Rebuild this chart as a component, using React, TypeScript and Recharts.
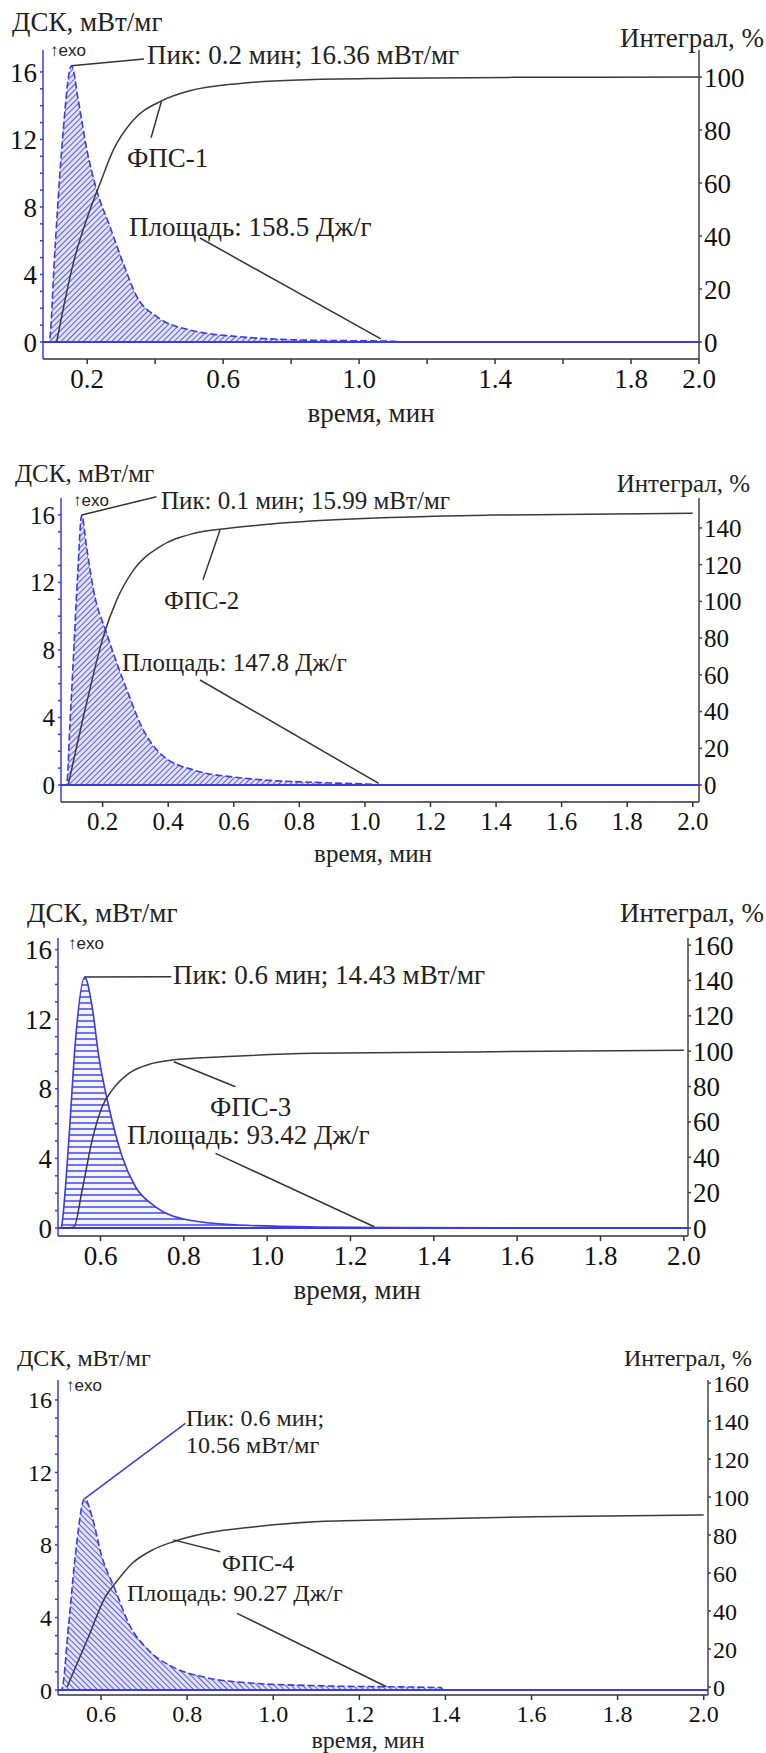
import React from "react";
import { ComposedChart, Area, Line, XAxis, YAxis, ReferenceLine } from "recharts";

// ФПС-1: ДСК-кривая (мВт/мг) и интеграл (%)
const dsc1X = [0.07, 0.088, 0.105, 0.125, 0.154, 0.174, 0.199, 0.228, 0.267, 0.306, 0.346, 0.405, 0.502, 0.65, 0.826, 1.1, 1.13, 2.0];
const dsc1Y = [0, 0, 5.45, 11.4, 16.36, 14.3, 11.4, 9.0, 6.83, 4.66, 2.69, 1.5, 0.71, 0.31, 0.12, 0.04, 0, 0];
const int1X = [0.11, 0.159, 0.208, 0.238, 0.277, 0.336, 0.419, 0.502, 0.65, 0.826, 1.1, 1.5, 2.0];
const int1Y = [0, 29.7, 49.8, 59.9, 72.5, 83.8, 91, 94.8, 97.6, 98.9, 99.5, 99.9, 100];

// ФПС-2
const dsc2X = [0.073, 0.09, 0.1, 0.111, 0.124, 0.136, 0.151, 0.172, 0.212, 0.274, 0.324, 0.375, 0.477, 0.629, 0.864, 1.02, 1.05, 2.0];
const dsc2Y = [0, 0, 3.5, 7.6, 12.5, 15.99, 14.1, 11.56, 9.0, 5.63, 3.26, 1.88, 0.89, 0.41, 0.14, 0.04, 0, 0];
const int2X = [0.095, 0.151, 0.202, 0.243, 0.294, 0.375, 0.477, 0.558, 0.68, 0.864, 1.38, 2.0];
const int2Y = [0, 44.5, 80.8, 100.8, 117, 129.8, 137, 139.3, 141.6, 144, 147, 148];

// ФПС-3
const dsc3X = [0.498, 0.506, 0.508, 0.524, 0.54, 0.562, 0.58, 0.596, 0.62, 0.652, 0.684, 0.732, 0.811, 0.931, 1.12, 1.3, 2.0];
const dsc3Y = [0, 0, 0.3, 5.06, 10.8, 14.43, 12.7, 9.85, 6.97, 4.1, 2.37, 1.22, 0.46, 0.17, 0.06, 0.03, 0];
const int3X = [0.508, 0.536, 0.556, 0.58, 0.604, 0.628, 0.668, 0.724, 0.772, 0.892, 1.115, 1.5, 2.0];
const int3Y = [0, 0.5, 21.5, 49.7, 68.6, 78, 87.4, 93.1, 95, 96.8, 98.8, 99.6, 100.5];

// ФПС-4
const dsc4X = [0.5, 0.508, 0.525, 0.54, 0.562, 0.579, 0.602, 0.633, 0.664, 0.71, 0.765, 0.842, 0.958, 1.097, 1.39, 1.395, 2.0];
const dsc4Y = [0, 0, 3.68, 7.35, 10.56, 9.56, 7.35, 5.52, 3.68, 2.2, 1.29, 0.7, 0.37, 0.24, 0.13, 0, 0];
const int4X = [0.521, 0.571, 0.61, 0.633, 0.672, 0.718, 0.768, 0.842, 0.958, 1.097, 1.27, 1.61, 2.0];
const int4Y = [0, 26.5, 47.5, 54.6, 65, 72, 76.5, 80.9, 84.4, 87, 88, 89.6, 90.5];

// tick values
const xTicksA = [0.2, 0.4, 0.6, 0.8, 1.0, 1.2, 1.4, 1.6, 1.8, 2.0];
const xLabels1 = [0.2, 0.6, 1.0, 1.4, 1.8, 2.0];
const xTicksB = [0.6, 0.8, 1.0, 1.2, 1.4, 1.6, 1.8, 2.0];
const leftTicks = [0, 1, 2, 3, 4, 5, 6, 7, 8, 9, 10, 11, 12, 13, 14, 15, 16];
const rightTicks1 = [0, 20, 40, 60, 80, 100];
const rightTicks2 = [0, 20, 40, 60, 80, 100, 120, 140];
const rightTicks3 = [0, 20, 40, 60, 80, 100, 120, 140, 160];

const FONT = '"Liberation Serif", Tinos, "Times New Roman", "DejaVu Serif", serif';
const BLUE = "#3a3ae6";
const INK = "#222";

type Seg = { a: [number, number]; b: [number, number]; color?: string };
type Txt = { x: number; y: number; text: string; anchor?: "start" | "middle" | "end"; sans?: boolean; size?: number };

const panels = [
	{
		id: "p1", top: 0, height: 440, plotTop: 50, plotBottom: 359, leftPx: 43, rightPx: 699,
		xDomain: [0.07, 2.0], leftDomain: [-1.007, 17.3], rightDomain: [-6.4, 110.2],
		xTicks: xTicksA, xLabels: xLabels1, rightTicks: rightTicks1,
		dscX: dsc1X, dscY: dsc1Y, intX: int1X, intY: int1Y, hatch: "diag", dashed: true, fs: 27,
		segs: [
			{ a: [0.154, 16.36], b: [0.367, 16.77] },
			{ a: [0.388, 12.1], b: [0.419, 14.3] },
			{ a: [0.532, 6.16], b: [1.064, 0.18] },
		] as Seg[],
		texts: [
			{ x: 12, y: 22, text: "ДСК, мВт/мг" },
			{ x: 764, y: 38, text: "Интеграл, %", anchor: "end" },
			{ x: 371, y: 413, text: "время, мин", anchor: "middle" },
			{ x: 50, y: 50, text: "↑exo", sans: true, size: 17 },
			{ x: 147, y: 55, text: "Пик: 0.2 мин; 16.36 мВт/мг" },
			{ x: 127, y: 158, text: "ФПС-1" },
			{ x: 129, y: 227, text: "Площадь: 158.5 Дж/г" },
		] as Txt[],
	},
	{
		id: "p2", top: 440, height: 440, plotTop: 58, plotBottom: 362, leftPx: 61, rightPx: 699,
		xDomain: [0.073, 2.019], leftDomain: [-1.007, 17.0], rightDomain: [-9.26, 156.3],
		xTicks: xTicksA, xLabels: xTicksA, rightTicks: rightTicks2,
		dscX: dsc2X, dscY: dsc2Y, intX: int2X, intY: int2Y, hatch: "diag", dashed: true, fs: 25,
		segs: [
			{ a: [0.136, 15.99], b: [0.364, 17.08] },
			{ a: [0.506, 12.15], b: [0.558, 15.1] },
			{ a: [0.497, 6.22], b: [1.042, 0.1] },
		] as Seg[],
		texts: [
			{ x: 15, y: 473, text: "ДСК, мВт/мг" },
			{ x: 750, y: 483, text: "Интеграл, %", anchor: "end" },
			{ x: 373, y: 853, text: "время, мин", anchor: "middle" },
			{ x: 73, y: 500, text: "↑exo", sans: true, size: 17 },
			{ x: 161, y: 500, text: "Пик: 0.1 мин; 15.99 мВт/мг" },
			{ x: 164, y: 600, text: "ФПС-2" },
			{ x: 122, y: 662, text: "Площадь: 147.8 Дж/г" },
		] as Txt[],
	},
	{
		id: "p3", top: 880, height: 440, plotTop: 58, plotBottom: 356, leftPx: 58, rightPx: 688,
		xDomain: [0.498, 2.01], leftDomain: [-0.46, 16.67], rightDomain: [-4.52, 164.0],
		xTicks: xTicksB, xLabels: xTicksB, rightTicks: rightTicks3,
		dscX: dsc3X, dscY: dsc3Y, intX: int3X, intY: int3Y, hatch: "horiz", dashed: false, fs: 27,
		segs: [
			{ a: [0.562, 14.43], b: [0.77, 14.44] },
			{ a: [0.776, 9.56], b: [0.924, 8.12] },
			{ a: [0.876, 4.29], b: [1.257, 0.07] },
		] as Seg[],
		texts: [
			{ x: 27, y: 913, text: "ДСК, мВт/мг" },
			{ x: 764, y: 913, text: "Интеграл, %", anchor: "end" },
			{ x: 357, y: 1290, text: "время, мин", anchor: "middle" },
			{ x: 68, y: 943, text: "↑exo", sans: true, size: 17 },
			{ x: 173, y: 975, text: "Пик: 0.6 мин; 14.43 мВт/мг" },
			{ x: 210, y: 1107, text: "ФПС-3" },
			{ x: 127, y: 1135, text: "Площадь: 93.42 Дж/г" },
		] as Txt[],
	},
	{
		id: "p4", top: 1310, height: 443, plotTop: 70, plotBottom: 385, leftPx: 58, rightPx: 708,
		xDomain: [0.5, 2.01], leftDomain: [-0.276, 17.1], rightDomain: [-4.2, 161.6],
		xTicks: xTicksB, xLabels: xTicksB, rightTicks: rightTicks3,
		dscX: dsc4X, dscY: dsc4Y, intX: int4X, intY: int4Y, hatch: "back", dashed: true, fs: 24,
		segs: [
			{ a: [0.562, 10.56], b: [0.796, 14.71], color: BLUE },
			{ a: [0.768, 8.28], b: [0.877, 7.63] },
			{ a: [0.916, 4.23], b: [1.263, 0.18] },
		] as Seg[],
		texts: [
			{ x: 17, y: 1358, text: "ДСК, мВт/мг" },
			{ x: 752, y: 1358, text: "Интеграл, %", anchor: "end" },
			{ x: 368, y: 1740, text: "время, мин", anchor: "middle" },
			{ x: 66, y: 1385, text: "↑exo", sans: true, size: 17 },
			{ x: 186, y: 1418, text: "Пик: 0.6 мин;" },
			{ x: 186, y: 1445, text: "10.56 мВт/мг" },
			{ x: 222, y: 1563, text: "ФПС-4" },
			{ x: 127, y: 1593, text: "Площадь: 90.27 Дж/г" },
		] as Txt[],
	},
];

type PanelCfg = (typeof panels)[number];

const anchorShift = { start: "translateY(-50%)", middle: "translate(-50%, -50%)", end: "translate(-100%, -50%)" };

const Panel = ({ cfg }: { cfg: PanelCfg }) => {
	const dsc = cfg.dscX.map((x, i) => ({ x, dsc: cfg.dscY[i] }));
	const integ = cfg.intX.map((x, i) => ({ x, integ: cfg.intY[i] }));
	const tickFont = { fill: "#111", fontSize: cfg.fs, fontFamily: FONT };
	const patId = `hatch-${cfg.id}`;

	return (
		<div style={{ position: "absolute", left: 0, top: cfg.top, width: 766, height: cfg.height }}>
			<ComposedChart
				width={766}
				height={cfg.height}
				margin={{ top: cfg.plotTop, right: 0, bottom: 0, left: 0 }}
				style={{ fontFamily: FONT }}>
				<defs>
					{cfg.hatch === "horiz" ? (
						<pattern id={patId} patternUnits="userSpaceOnUse" width={8} height={6}>
							<rect width={8} height={6} fill="#f4f4ff" />
							<line x1={0} y1={3} x2={8} y2={3} stroke={BLUE} strokeWidth={1.4} />
						</pattern>
					) : (
						<pattern
							id={patId}
							patternUnits="userSpaceOnUse"
							width={4}
							height={4}
							patternTransform={cfg.hatch === "back" ? "rotate(-45)" : "rotate(45)"}>
							<rect width={4} height={4} fill="#e2e2fb" />
							<line x1={0} y1={0} x2={0} y2={4} stroke={BLUE} strokeWidth={1.6} />
						</pattern>
					)}
				</defs>
				<XAxis
					type="number"
					dataKey="x"
					domain={cfg.xDomain}
					allowDataOverflow
					ticks={cfg.xTicks}
					interval={0}
					tickFormatter={(v: number) => (cfg.xLabels.some((l) => Math.abs(l - v) < 1e-6) ? v.toFixed(1) : "")}
					height={cfg.height - cfg.plotBottom}
					stroke="#333"
					strokeWidth={1.5}
					tick={tickFont}
					tickSize={5}
					tickMargin={5}
				/>
				<YAxis
					yAxisId="left"
					type="number"
					domain={cfg.leftDomain}
					allowDataOverflow
					ticks={leftTicks}
					interval={0}
					tickFormatter={(v: number) => (v % 4 === 0 ? String(v) : "")}
					width={cfg.leftPx}
					stroke={BLUE}
					strokeWidth={1.5}
					tick={tickFont}
					tickSize={3}
					tickMargin={3}
				/>
				<YAxis
					yAxisId="right"
					orientation="right"
					type="number"
					domain={cfg.rightDomain}
					allowDataOverflow
					ticks={cfg.rightTicks}
					interval={0}
					width={766 - cfg.rightPx}
					stroke="#444"
					strokeWidth={1.5}
					tick={tickFont}
					tickSize={3}
					tickMargin={2}
				/>
				<ReferenceLine yAxisId="left" y={0} stroke={BLUE} strokeWidth={1.8} />
				<Area
					yAxisId="left"
					data={dsc}
					dataKey="dsc"
					type="monotone"
					baseValue={0}
					stroke={BLUE}
					strokeWidth={1.6}
					strokeDasharray={cfg.dashed ? "7 3" : undefined}
					fill={`url(#${patId})`}
					fillOpacity={1}
					isAnimationActive={false}
				/>
				<Line
					yAxisId="right"
					data={integ}
					dataKey="integ"
					type="monotone"
					stroke="#3a3a3a"
					strokeWidth={1.5}
					dot={false}
					isAnimationActive={false}
				/>
				{cfg.segs.map((s, i) => (
					<ReferenceLine
						key={i}
						yAxisId="left"
						segment={[{ x: s.a[0], y: s.a[1] }, { x: s.b[0], y: s.b[1] }]}
						stroke={s.color ?? "#333"}
						strokeWidth={1.5}
						ifOverflow="visible"
					/>
				))}
			</ComposedChart>
			{cfg.texts.map((t, i) => (
				<div
					key={i}
					style={{
						position: "absolute",
						left: t.x,
						top: t.y - cfg.top,
						transform: anchorShift[t.anchor ?? "start"],
						fontFamily: t.sans ? '"Liberation Sans", Arial, sans-serif' : FONT,
						fontSize: t.size ?? cfg.fs,
						color: INK,
						whiteSpace: "nowrap",
						lineHeight: 1,
					}}>
					{t.text}
				</div>
			))}
		</div>
	);
};

const App: React.FC = () => {
	return (
		<div style={{ position: "absolute", left: 0, top: 0, width: 766, height: 1753, background: "#fff" }}>
			{panels.map((p) => (
				<Panel key={p.id} cfg={p} />
			))}
		</div>
	);
};

export default App;
